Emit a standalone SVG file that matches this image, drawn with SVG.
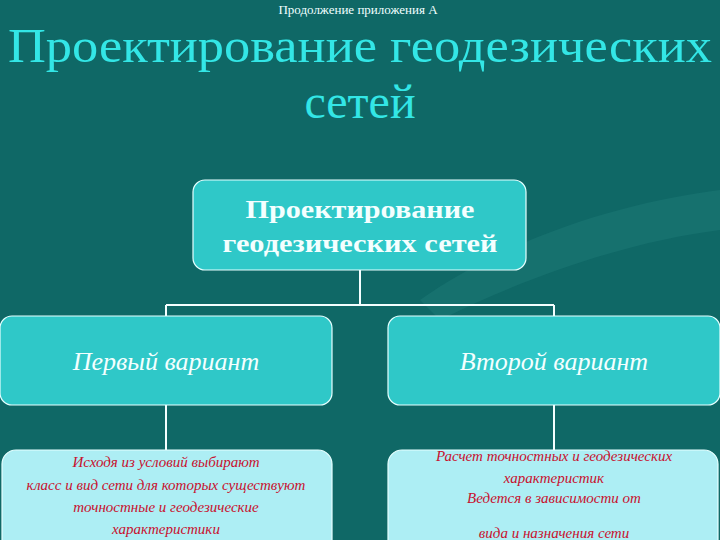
<svg xmlns="http://www.w3.org/2000/svg" width="720" height="540" viewBox="0 0 720 540">
<style>
.bg{fill:#0f6866}
.sub{font-family:"Liberation Serif",serif;font-size:13px;fill:#f0ffff;text-anchor:middle}
.title{font-family:"Liberation Serif",serif;font-size:48px;fill:#33e6e6;text-anchor:middle}
.box{fill:#2fc8c8;stroke:#e6ffff;stroke-width:1.2}
.lbox{fill:#adeef4;stroke:#e6ffff;stroke-width:1.2}
.t1{font-family:"Liberation Serif",serif;font-weight:bold;font-size:25px;fill:#f4ffff;text-anchor:middle}
.t2{font-family:"Liberation Serif",serif;font-style:italic;font-size:26px;fill:#f4ffff;text-anchor:middle}
.t3{font-family:"Liberation Serif",serif;font-style:italic;font-size:15px;fill:#c8102e;text-anchor:middle}
.conn{stroke:#f4ffff;stroke-width:2;fill:none}
</style>
<rect class="bg" x="0" y="0" width="720" height="540"/>
<path d="M420 300 C520 230 640 200 720 190 L720 230 C640 240 540 270 440 320 Z" fill="#2a8a88" opacity="0.25"/>
<text class="sub" x="358" y="14">Продолжение приложения А</text>
<text class="title" x="360" y="62" textLength="704" lengthAdjust="spacingAndGlyphs">Проектирование геодезических</text>
<text class="title" x="360" y="118">сетей</text>
<g id="connectors">
<path class="conn" d="M360 270 V305 M166 305 H554 M166 305 V316 M554 305 V316"/>
<path class="conn" d="M166 405 V451 M554 405 V451"/>
</g>
<g id="top">
<rect class="box" x="193" y="180" width="333" height="90" rx="12"/>
<text class="t1" x="360" y="218" textLength="229" lengthAdjust="spacingAndGlyphs">Проектирование</text>
<text class="t1" x="360" y="252" textLength="275" lengthAdjust="spacingAndGlyphs">геодезических сетей</text>
</g>
<g id="left">
<rect class="box" x="0" y="316" width="332" height="89" rx="12"/>
<text class="t2" x="166" y="370">Первый вариант</text>
</g>
<g id="right">
<rect class="box" x="388" y="316" width="332" height="89" rx="12"/>
<text class="t2" x="554" y="370">Второй вариант</text>
</g>
<g id="leftdetail">
<rect class="lbox" x="2" y="450" width="330" height="110" rx="14"/>
<text class="t3" x="166" y="467">Исходя из условий выбирают</text>
<text class="t3" x="166" y="490">класс и вид сети для которых существуют</text>
<text class="t3" x="166" y="512">точностные и геодезические</text>
<text class="t3" x="166" y="534">характеристики</text>
</g>
<g id="rightdetail">
<rect class="lbox" x="388" y="450" width="330" height="110" rx="14"/>
<text class="t3" x="554" y="461">Расчет точностных и геодезических</text>
<text class="t3" x="554" y="483">характеристик</text>
<text class="t3" x="554" y="503">Ведется в зависимости от</text>
<text class="t3" x="554" y="538">вида и назначения сети</text>
</g>
</svg>
